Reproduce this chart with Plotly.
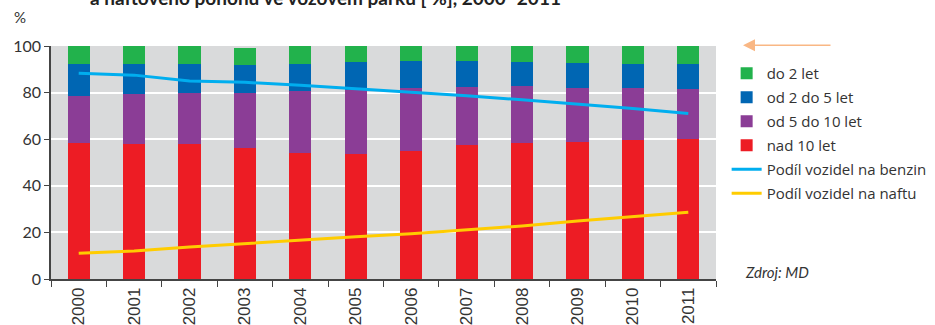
import plotly.graph_objects as go

years = ["2000", "2001", "2002", "2003", "2004", "2005",
         "2006", "2007", "2008", "2009", "2010", "2011"]

# Age structure of the fleet [%] (stacked from the bottom up)
nad_10 = [58.4, 58.1, 58.1, 56.4, 54.1, 53.8, 55.0, 57.6, 58.4, 59.0, 59.8, 60.1]
od_5_do_10 = [20.3, 21.5, 21.8, 23.5, 26.6, 27.4, 27.1, 25.0, 24.6, 23.1, 22.3, 21.5]
od_2_do_5 = [13.7, 12.8, 12.5, 12.1, 11.7, 12.1, 11.6, 11.1, 10.3, 10.8, 10.3, 10.8]
do_2 = [7.6, 7.6, 7.6, 7.0, 7.6, 6.7, 6.3, 6.3, 6.7, 7.1, 7.6, 7.6]

# Fuel shares [%]
benzin = [88.3, 87.5, 85.0, 84.4, 83.2, 81.8, 80.4, 78.7, 76.9, 75.1, 73.2, 71.0]
nafta = [11.0, 12.0, 13.7, 15.2, 16.8, 18.1, 19.4, 21.0, 22.8, 24.9, 26.9, 28.6]

FONT = "Lato"
LEGEND_FONT = "Open Sans"
TICK_FONT = "Liberation Sans"

fig = go.Figure()

bar_series = [
    ("nad 10 let", nad_10, "#ed1c24", 4),
    ("od 5 do 10 let", od_5_do_10, "#8b3d96", 3),
    ("od 2 do 5 let", od_2_do_5, "#0066b3", 2),
    ("do 2 let", do_2, "#22b24c", 1),
]
for name, vals, color, rank in bar_series:
    fig.add_trace(go.Bar(
        x=years, y=vals, name=name, marker_color=color,
        marker_line_width=0, width=0.4,
        legendrank=rank, legendgroup=name,
    ))

line_series = [
    ("Podíl vozidel na benzin", benzin, "#00aeef", 5),
    ("Podíl vozidel na naftu", nafta, "#ffcc00", 6),
]
for name, vals, color, rank in line_series:
    fig.add_trace(go.Scatter(
        x=years, y=vals, name=name, mode="lines",
        line=dict(color=color, width=3),
        legendrank=rank, legendgroup=name,
    ))

fig.update_layout(
    width=935, height=325,
    margin=dict(l=51, r=219, t=46, b=46, autoexpand=False),
    barmode="stack",
    paper_bgcolor="white",
    plot_bgcolor="#d9dadb",
    font=dict(family=FONT, color="#333333"),
    showlegend=True,
    legend=dict(
        x=1.016, xanchor="left", y=0.953, yanchor="top",
        font=dict(family=LEGEND_FONT, size=15, color="#333333"),
        itemwidth=30, tracegroupgap=1.5,
        bgcolor="rgba(0,0,0,0)",
    ),
    xaxis=dict(
        type="category",
        tickson="boundaries",
        ticks="outside", ticklen=6, tickwidth=1.2, tickcolor="#444444",
        showline=True, linecolor="#444444", linewidth=1.5,
        showgrid=False,
        tickangle=-90,
        tickfont=dict(family=TICK_FONT, size=17, color="#333333"),
    ),
    yaxis=dict(
        range=[0, 100], dtick=20,
        ticks="outside", ticklen=5, tickwidth=1.2, tickcolor="#444444",
        showline=True, linecolor="#444444", linewidth=1.5,
        showgrid=True, gridcolor="white", gridwidth=1.5,
        zeroline=False,
        tickfont=dict(family=FONT, size=16, color="#333333"),
    ),
)

# Title line (upper part runs off the top of the page)
fig.add_annotation(
    text="<b>a naftového pohonu ve vozovém parku [ %], 2000–2011</b>",
    xref="paper", yref="paper", x=0.056, y=1.21,
    xanchor="left", yanchor="middle", showarrow=False,
    font=dict(family=FONT, size=19, color="#222222"),
)

# Axis unit
fig.add_annotation(
    text="%", xref="paper", yref="paper", x=-0.058, y=1.123,
    xanchor="left", yanchor="middle", showarrow=False,
    font=dict(family=FONT, size=15, color="#333333"),
)

# Arrow above the legend
fig.add_annotation(
    text="", xref="paper", yref="paper", x=1.0406, y=1.003,
    ax=89, ay=0, showarrow=True,
    arrowhead=2, arrowsize=1.6, arrowwidth=1.5, arrowcolor="#f9b784",
)

# Source note
fig.add_annotation(
    text="<i>Zdroj: MD</i>", xref="paper", yref="paper", x=1.0406, y=0.031,
    xanchor="left", yanchor="middle", showarrow=False,
    font=dict(family=FONT, size=15, color="#333333"),
)

fig.write_html("out.html")
